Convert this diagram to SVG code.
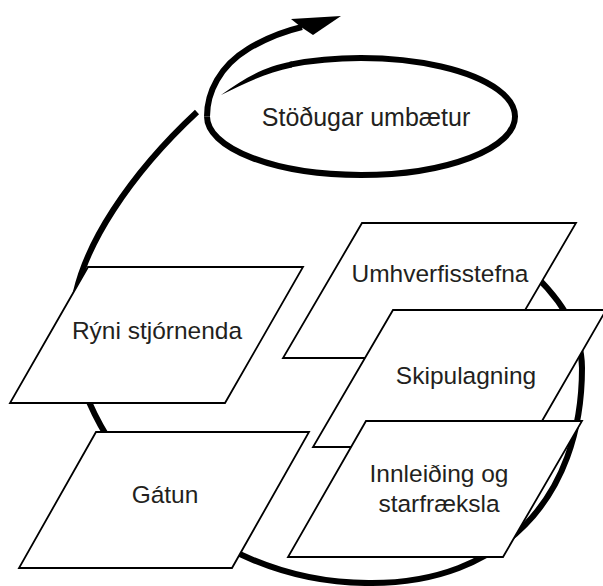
<svg xmlns="http://www.w3.org/2000/svg" width="603" height="586" viewBox="0 0 603 586">
  <style>
    .flow { fill: none; stroke: #000; stroke-width: 6; stroke-linecap: butt; stroke-linejoin: round; }
    .box { fill: #fff; stroke: #000; stroke-width: 1.8; stroke-linejoin: miter; }
    .lbl { font-family: "Liberation Sans", Arial, sans-serif; font-size: 24.5px; fill: #231f20; text-anchor: middle; }
  </style>
  <rect x="0" y="0" width="603" height="586" fill="#fff"/>

  <g id="connectors">
    <path id="cycle" class="flow" d="M 520,262 C 556,292 582,328 582,368 C 582,500 500,583 372,583 C 200,585 72,440 72,325 C 72,250 140,165 197,112"/>
    <path id="out-arrow" class="flow" stroke-width="5.5" d="M 207,116.5 C 207,92 220,66 248,49 C 268,37 285,31 302,27"/>
    <polygon id="out-arrow-head" points="341,16 291,19 301,27 313,35" fill="#000"/>
  </g>

  <g id="node-stodugar-umbaetur">
    <path d="M 221,95 C 245,78 265,66 292,61.5 L 292,67.5 C 268,72 245,83 221,95 Z" fill="#000"/>
    <path class="flow" d="M 290,64.6 A 154 58.5 0 0 1 515,116.5 A 154 58.5 0 0 1 361,175 A 154 58.5 0 0 1 207,116.5"/>
    <text class="lbl" x="366" y="126" style="font-size:25px">Stöðugar umbætur</text>
  </g>

  <g id="node-ryni">
    <polygon class="box" points="88,267 303,267 225,403 10,403"/>
    <text class="lbl" x="157" y="339">Rýni stjórnenda</text>
  </g>

  <g id="node-gatun">
    <polygon class="box" points="96,432 309,432 232,568 19,568"/>
    <text class="lbl" x="165" y="503">Gátun</text>
  </g>

  <g id="node-umhverfisstefna">
    <polygon class="box" points="362,223 576,223 497,358 283,358"/>
    <text class="lbl" x="440" y="282">Umhverfisstefna</text>
  </g>

  <g id="node-skipulagning">
    <polygon class="box" points="393,310 606,310 527,447 313,447"/>
    <text class="lbl" x="466" y="384">Skipulagning</text>
  </g>

  <g id="node-innleiding">
    <polygon class="box" points="366,421 582,421 503,557 288,557"/>
    <text class="lbl" x="439" y="482">Innleiðing og</text>
    <text class="lbl" x="439" y="512">starfræksla</text>
  </g>
</svg>
